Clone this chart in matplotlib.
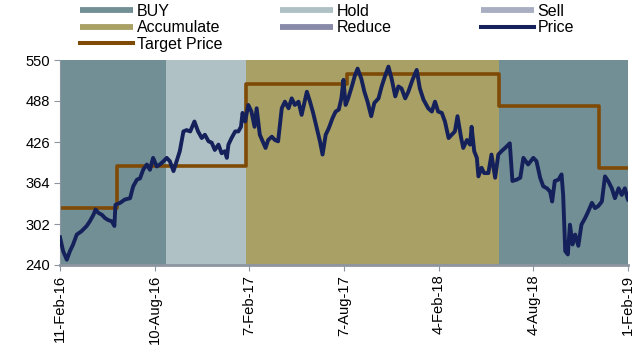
import matplotlib
matplotlib.use('Agg')
import matplotlib.pyplot as plt
import matplotlib.dates as mdates
from matplotlib.lines import Line2D
import numpy as np
import pandas as pd

plt.rcParams['font.family'] = ['Liberation Sans', 'DejaVu Sans']

start = pd.Timestamp('2016-02-11')

# price: days after 11-Feb-16 and value
price_days = [0, 6, 13, 19, 25, 32, 41, 51, 57, 64, 68, 73, 80, 86, 92, 99, 104, 106,
              115, 124, 134, 140, 147, 153, 159, 166, 172, 178, 185, 191, 198, 204, 210,
              217, 223, 229, 236, 242, 249, 257, 264, 271, 277, 284, 290, 296, 303, 309,
              315, 319, 322, 328, 335, 341, 346, 349, 354, 360, 366, 372, 376, 382, 389,
              393, 398, 405, 411, 417, 424, 430, 437, 443, 449, 456, 462, 472, 478, 484,
              491, 497, 502, 508, 514, 521, 527, 533, 538, 542, 546, 551, 558, 564, 569,
              576, 582, 588, 595, 601, 609, 615, 622, 628, 634, 641, 647, 653, 660, 666,
              674, 682, 688, 695, 704, 711, 717, 723, 730, 736, 743, 749, 755, 760, 767,
              771, 778, 784, 787, 792, 797, 800, 806, 811, 819, 825, 832, 838, 844, 851,
              860, 865, 873, 880, 886, 895, 905, 911, 918, 924, 931, 937, 941, 946, 953,
              959, 962, 966, 971, 975, 980, 985, 991, 997, 1004, 1010, 1017, 1023, 1029,
              1036, 1042, 1048, 1055, 1061, 1068, 1074, 1080, 1085, 1086]
price_vals = [282, 261, 248, 261, 271, 286, 291, 299, 306, 316, 324, 319, 316, 311, 308,
              306, 299, 331, 334, 339, 341, 359, 369, 371, 384, 392, 384, 402, 389, 392,
              397, 402, 397, 382, 397, 412, 442, 444, 442, 457, 442, 432, 437, 427, 425,
              414, 422, 409, 412, 402, 422, 432, 442, 442, 449, 470, 457, 482, 472, 449,
              477, 437, 424, 417, 429, 434, 429, 427, 477, 487, 477, 492, 482, 487, 467,
              502, 487, 470, 447, 427, 407, 437, 447, 462, 472, 475, 492, 520, 482, 492,
              510, 527, 537, 522, 502, 487, 465, 485, 492, 510, 527, 540, 522, 495, 510,
              507, 492, 502, 520, 535, 507, 490, 477, 472, 487, 472, 470, 457, 432, 437,
              442, 465, 432, 417, 429, 422, 449, 412, 402, 374, 387, 379, 379, 407, 372,
              407, 412, 417, 424, 367, 369, 372, 402, 392, 402, 397, 372, 359, 356, 351,
              336, 367, 369, 377, 346, 261, 256, 301, 271, 286, 269, 301, 311, 321, 334,
              326, 329, 336, 374, 367, 356, 341, 356, 346, 356, 341, 339]

# target price steps
target_dates = ['2016-02-11', '2016-05-30', '2017-01-31', '2017-08-12', '2018-05-30',
                '2018-12-07', '2019-02-01']
target_vals = [326, 390, 514, 529, 480, 386, 386]

# rating bands
band_starts = ['2016-02-11', '2016-09-01', '2017-01-31', '2018-05-30']
band_ends = ['2016-09-01', '2017-01-31', '2018-05-30', '2019-02-01']
band_ratings = ['BUY', 'Hold', 'Accumulate', 'BUY']

tick_dates = ['2016-02-11', '2016-08-10', '2017-02-07', '2017-08-07', '2018-02-04',
              '2018-08-04', '2019-02-01']
y_ticks = [240, 302, 364, 426, 488, 550]

colors = {'BUY': '#728f96', 'Hold': '#b0c1c5', 'Sell': '#aaaec3',
          'Accumulate': '#a8a065', 'Reduce': '#888aa8'}
price_color = '#15215b'
target_color = '#7f4a06'

price_x = [start + pd.Timedelta(days=d) for d in price_days]

fig = plt.figure(figsize=(6.38, 3.51), dpi=100)
ax = fig.add_axes([60 / 638, 1 - 265 / 351, 568 / 638, 205 / 351])

for s, e, r in zip(band_starts, band_ends, band_ratings):
    ax.axvspan(pd.Timestamp(s), pd.Timestamp(e), color=colors[r], lw=0, zorder=0)

ax.plot(price_x, price_vals, color=price_color, lw=2.8, zorder=3)
ax.step(pd.to_datetime(target_dates), target_vals, where='post', color=target_color,
        lw=2.6, zorder=2)

ax.set_xlim(pd.Timestamp(tick_dates[0]), pd.Timestamp(tick_dates[-1]))
ax.set_ylim(240, 550)
ax.set_yticks(y_ticks)
ax.set_xticks(pd.to_datetime(tick_dates))
ax.xaxis.set_major_formatter(mdates.DateFormatter('%-d-%b-%y'))
ax.tick_params(axis='x', rotation=90, labelsize=10.6, length=4, color='#8e95a0', pad=3)
ax.tick_params(axis='y', labelsize=10.6, length=4, color='#8e95a0', pad=3)

for sp in ['top', 'right']:
    ax.spines[sp].set_visible(False)
ax.spines['left'].set_color('#8e95a0')
ax.spines['left'].set_linewidth(0.8)
ax.spines['bottom'].set_color('#8e95a0')
ax.spines['bottom'].set_linewidth(2)

# legend, three columns placed separately
def band_handle(name):
    return Line2D([], [], color=colors[name], lw=4.2, solid_capstyle='butt')

cols = [
    [(band_handle('BUY'), 'BUY'), (band_handle('Accumulate'), 'Accumulate'),
     (Line2D([], [], color=target_color, lw=2.9), 'Target Price')],
    [(band_handle('Hold'), 'Hold'), (band_handle('Reduce'), 'Reduce')],
    [(band_handle('Sell'), 'Sell'), (Line2D([], [], color=price_color, lw=2.9), 'Price')],
]
col_x = [80, 280, 481]
for cx, items in zip(col_x, cols):
    hs, ls = zip(*items)
    fig.legend(hs, ls, loc='upper left', bbox_to_anchor=(cx / 638, 1 - 4 / 351),
               frameon=False, fontsize=11.5, handlelength=3.3, handletextpad=0.25,
               labelspacing=0.08, borderpad=0, borderaxespad=0)

fig.savefig('out.png', dpi=100)
